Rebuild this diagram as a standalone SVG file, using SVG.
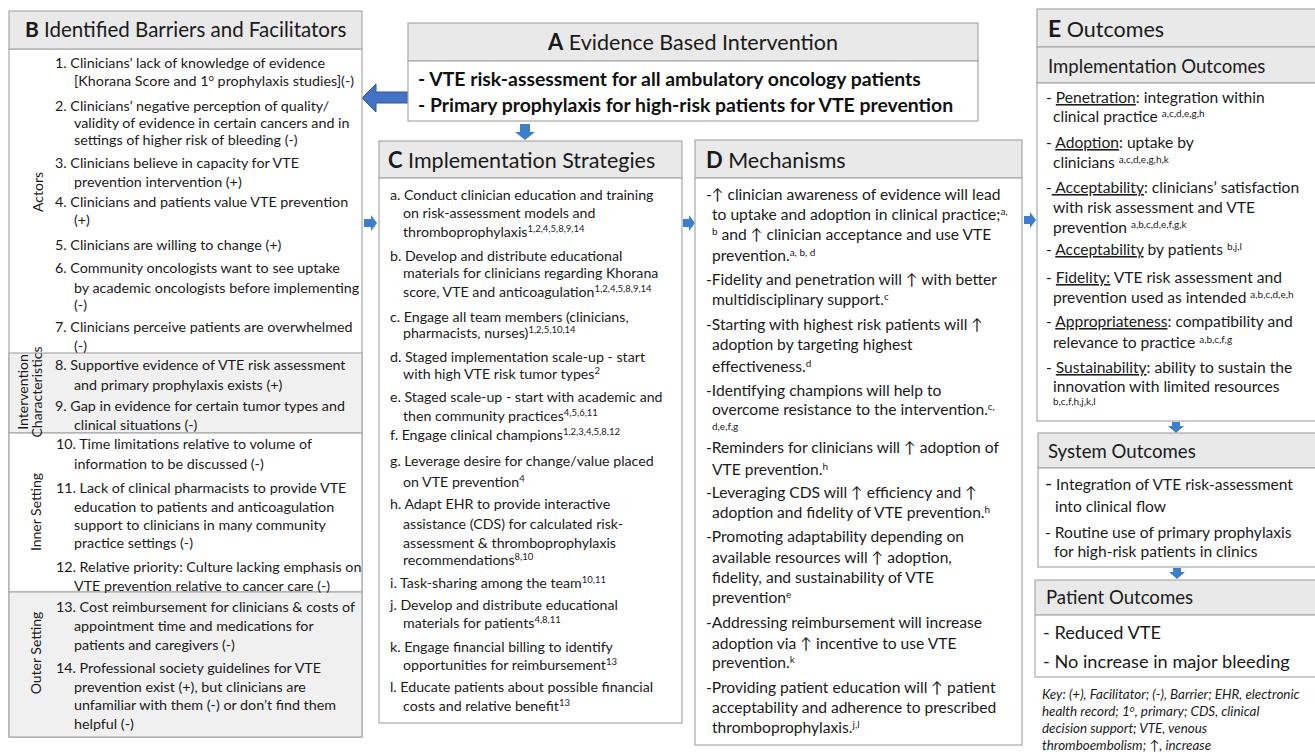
<svg xmlns="http://www.w3.org/2000/svg" width="1315" height="752" viewBox="0 0 1315 752">
<style>
.box{fill:#ffffff;stroke:#a9a9a9;stroke-width:1.2}
.hdr{fill:#e9e9e9;stroke:#a9a9a9;stroke-width:1.2}
.sec{fill:#f0f0f0;stroke:#a9a9a9;stroke-width:1.2}
text{font-family:Lato,"Open Sans","DejaVu Sans",sans-serif;fill:#1a1a1a}
.tt{font-size:21.5px}
.tl{font-weight:bold;font-size:22px}
.st{font-size:18.6px}
.bb{font-size:14.3px}
.cc{font-size:14.2px}
.dd{font-size:15.6px}
.ee{font-size:15.6px}
.pp{font-size:18.2px}
.ab{font-size:19.4px;font-weight:bold;fill:#111}
.vl{font-size:14px}
.key{font-size:13.4px;font-style:italic}
.sup{font-size:9.5px}
.sup2{font-size:10px}
.u{text-decoration:underline}
.arr{fill:#3b7fca}
</style>

<g id="connectors">
<path d="M408,92 H376 V84 L362,98 L376,112 V103 H408 Z" fill="#4472c4" stroke="#2f5597" stroke-width="1"/>
<path class="arr" d="M520,124 h10 v8 h5 l-10,8 l-10,-8 h5 z"/>
<path class="arr" d="M364,219 h7 v-4 l6,8 l-6,8 v-4 h-7 z"/>
<path class="arr" d="M683,219 h6 v-4 l6,8 l-6,8 v-4 h-6 z"/>
<path class="arr" d="M1024,216 h6 v-4 l6,8 l-6,8 v-4 h-6 z"/>
<path class="arr" d="M1172,422 h8 v4 h4 l-8,7 l-8,-7 h4 z"/>
<path class="arr" d="M1173,568 h8 v4 h4 l-8,7 l-8,-7 h4 z"/>
</g>

<g id="node-B">
<rect class="box" x="9" y="49" width="353" height="688"/>
<rect class="sec" x="9" y="353" width="353" height="80"/>
<rect class="box" x="9" y="433" width="353" height="159"/>
<rect class="sec" x="9" y="592" width="353" height="145"/>
<rect class="hdr" x="9" y="11" width="353" height="38"/>
<text x="25" y="37" style="font-size:20.5px"><tspan class="tl" style="font-size:21px">B</tspan> Identified Barriers and Facilitators</text>
<text class="vl" transform="translate(43,192) rotate(-90)" text-anchor="middle">Actors</text>
<text class="vl" transform="translate(28,392) rotate(-90)" text-anchor="middle">Intervention</text>
<text class="vl" transform="translate(42,392) rotate(-90)" text-anchor="middle">Characteristics</text>
<text class="vl" transform="translate(41,512) rotate(-90)" text-anchor="middle">Inner Setting</text>
<text class="vl" transform="translate(41,653) rotate(-90)" text-anchor="middle">Outer Setting</text>
<text x="55" y="68" class="bb">1.  Clinicians’ lack of knowledge of evidence</text>
<text x="74" y="86" class="bb">[Khorana Score and 1<tspan class="sup" dy="-5">o</tspan><tspan dy="5"> prophylaxis studies](-)</tspan></text>
<text x="55" y="111" class="bb">2.  Clinicians’ negative perception of quality/</text>
<text x="74" y="128" class="bb">validity of evidence in certain cancers and in</text>
<text x="74" y="145" class="bb">settings of higher risk of bleeding (-)</text>
<text x="55" y="168" class="bb">3.  Clinicians believe in capacity for VTE</text>
<text x="74" y="187" class="bb">prevention intervention (+)</text>
<text x="55" y="207" class="bb">4.  Clinicians and patients value VTE prevention</text>
<text x="74" y="225" class="bb">(+)</text>
<text x="55" y="250" class="bb">5.  Clinicians are willing to change (+)</text>
<text x="55" y="273" class="bb">6.  Community oncologists want to see uptake</text>
<text x="74" y="293" class="bb">by academic oncologists before implementing</text>
<text x="74" y="310" class="bb">(-)</text>
<text x="55" y="332" class="bb">7.  Clinicians perceive patients are overwhelmed</text>
<text x="74" y="351" class="bb">(-)</text>
<text x="55" y="370" class="bb">8.  Supportive evidence of VTE risk assessment</text>
<text x="74" y="390" class="bb">and primary prophylaxis exists (+)</text>
<text x="55" y="411" class="bb">9.  Gap in evidence for certain tumor types and</text>
<text x="74" y="430" class="bb">clinical situations (-)</text>
<text x="56" y="449" class="bb">10. Time limitations relative to volume of</text>
<text x="74" y="469" class="bb">information to be discussed (-)</text>
<text x="56" y="493" class="bb">11. Lack of clinical pharmacists to provide VTE</text>
<text x="74" y="512" class="bb">education to patients and anticoagulation</text>
<text x="74" y="530" class="bb">support to clinicians in many community</text>
<text x="74" y="548" class="bb">practice settings (-)</text>
<text x="56" y="572" class="bb">12. Relative priority: Culture lacking emphasis on</text>
<text x="74" y="591" class="bb">VTE prevention relative to cancer care (-)</text>
<text x="56" y="612" class="bb">13. Cost reimbursement for clinicians &amp; costs of</text>
<text x="74" y="631" class="bb">appointment time and medications for</text>
<text x="74" y="650" class="bb">patients and caregivers (-)</text>
<text x="56" y="673" class="bb">14. Professional society guidelines for VTE</text>
<text x="74" y="692" class="bb">prevention exist (+), but clinicians are</text>
<text x="74" y="710" class="bb">unfamiliar with them (-) or don’t find them</text>
<text x="74" y="729" class="bb">helpful (-)</text>
</g>

<g id="node-A">
<rect class="hdr" x="408" y="23" width="570" height="38"/>
<rect class="box" x="408" y="61" width="570" height="60"/>
<text x="693" y="50" class="tt" text-anchor="middle"><tspan class="tl">A</tspan> Evidence Based Intervention</text>
<text x="418" y="86" class="ab">- VTE risk-assessment for all ambulatory oncology patients</text>
<text x="418" y="112" class="ab">- Primary prophylaxis for high-risk patients for VTE prevention</text>
</g>

<g id="node-C">
<rect class="hdr" x="379" y="141" width="303" height="37"/>
<rect class="box" x="379" y="178" width="303" height="545"/>
<text x="388" y="168" class="tt"><tspan class="tl">C</tspan> Implementation Strategies</text>
<text x="390" y="200" class="cc">a. Conduct clinician education and training</text>
<text x="403" y="218" class="cc">on risk-assessment models and</text>
<text x="403" y="237" class="cc">thromboprophylaxis<tspan class="sup" dy="-5">1,2,4,5,8,9,14</tspan></text>
<text x="390" y="261" class="cc">b. Develop and distribute educational</text>
<text x="403" y="278" class="cc">materials for clinicians regarding Khorana</text>
<text x="403" y="297" class="cc">score, VTE and anticoagulation<tspan class="sup" dy="-5">1,2,4,5,8,9,14</tspan></text>
<text x="390" y="322" class="cc">c. Engage all team members (clinicians,</text>
<text x="403" y="338" class="cc">pharmacists, nurses)<tspan class="sup" dy="-5">1,2,5,10,14</tspan></text>
<text x="390" y="362" class="cc">d. Staged implementation scale-up - start</text>
<text x="403" y="379" class="cc">with high VTE risk tumor types<tspan class="sup" dy="-5">2</tspan></text>
<text x="390" y="402" class="cc">e. Staged scale-up - start with academic and</text>
<text x="403" y="421" class="cc">then community practices<tspan class="sup" dy="-5">4,5,6,11</tspan></text>
<text x="390" y="440" class="cc">f. Engage clinical champions<tspan class="sup" dy="-5">1,2,3,4,5,8,12</tspan></text>
<text x="390" y="466" class="cc">g. Leverage desire for change/value placed</text>
<text x="403" y="487" class="cc">on VTE prevention<tspan class="sup" dy="-5">4</tspan></text>
<text x="390" y="509" class="cc">h. Adapt EHR to provide interactive</text>
<text x="403" y="529" class="cc">assistance (CDS) for calculated risk-</text>
<text x="403" y="548" class="cc">assessment &amp; thromboprophylaxis</text>
<text x="403" y="565" class="cc">recommendations<tspan class="sup" dy="-5">8,10</tspan></text>
<text x="390" y="588" class="cc">i. Task-sharing among the team<tspan class="sup" dy="-5">10,11</tspan></text>
<text x="390" y="610" class="cc">j. Develop and distribute educational</text>
<text x="403" y="628" class="cc">materials for patients<tspan class="sup" dy="-5">4,8,11</tspan></text>
<text x="390" y="652" class="cc">k. Engage financial billing to identify</text>
<text x="403" y="670" class="cc">opportunities for reimbursement<tspan class="sup" dy="-5">13</tspan></text>
<text x="390" y="692" class="cc">l. Educate patients about possible financial</text>
<text x="403" y="711" class="cc">costs and relative benefit<tspan class="sup" dy="-5">13</tspan></text>
</g>

<g id="node-D">
<rect class="hdr" x="695" y="140" width="327" height="38"/>
<rect class="box" x="695" y="178" width="327" height="567"/>
<text x="706" y="168" class="tt"><tspan class="tl">D</tspan> Mechanisms</text>
<text x="706" y="200" class="dd">-↑ clinician awareness of evidence will lead</text>
<text x="712" y="220" class="dd">to uptake and adoption in clinical practice;<tspan class="sup2" dy="-5">a,</tspan></text>
<text x="712" y="240" class="dd"><tspan class="sup2" dy="-5">b</tspan><tspan dy="5"> and ↑ clinician acceptance and use VTE</tspan></text>
<text x="712" y="261" class="dd">prevention.<tspan class="sup2" dy="-5">a, b, d</tspan></text>
<text x="706" y="285" class="dd">-Fidelity and penetration will ↑ with better</text>
<text x="712" y="305" class="dd">multidisciplinary support.<tspan class="sup2" dy="-5">c</tspan></text>
<text x="706" y="330" class="dd">-Starting with highest risk patients will ↑</text>
<text x="712" y="350" class="dd">adoption by targeting highest</text>
<text x="712" y="372" class="dd">effectiveness.<tspan class="sup2" dy="-5">d</tspan></text>
<text x="706" y="396" class="dd">-Identifying champions will help to</text>
<text x="712" y="415" class="dd">overcome resistance to the intervention.<tspan class="sup2" dy="-5">c,</tspan></text>
<text x="712" y="430" class="sup2">d,e,f,g</text>
<text x="706" y="453" class="dd">-Reminders for clinicians will ↑ adoption of</text>
<text x="712" y="475" class="dd">VTE prevention.<tspan class="sup2" dy="-5">h</tspan></text>
<text x="706" y="498" class="dd">-Leveraging CDS will ↑ efficiency and ↑</text>
<text x="712" y="518" class="dd">adoption and fidelity of VTE prevention.<tspan class="sup2" dy="-5">h</tspan></text>
<text x="706" y="542" class="dd">-Promoting adaptability depending on</text>
<text x="712" y="563" class="dd">available resources will ↑ adoption,</text>
<text x="712" y="583" class="dd">fidelity, and sustainability of VTE</text>
<text x="712" y="603" class="dd">prevention<tspan class="sup2" dy="-5">e</tspan></text>
<text x="706" y="628" class="dd">-Addressing reimbursement will increase</text>
<text x="712" y="649" class="dd">adoption via ↑ incentive to use VTE</text>
<text x="712" y="668" class="dd">prevention.<tspan class="sup2" dy="-5">k</tspan></text>
<text x="706" y="693" class="dd">-Providing patient education will ↑ patient</text>
<text x="712" y="713" class="dd">acceptability and adherence to prescribed</text>
<text x="712" y="733" class="dd">thromboprophylaxis.<tspan class="sup2" dy="-5">j,l</tspan></text>
</g>

<g id="node-E">
<rect class="hdr" x="1037" y="9" width="280" height="38"/>
<text x="1048" y="37" class="tt"><tspan class="tl" style="font-size:23px">E</tspan> Outcomes</text>
</g>

<g id="node-E-implementation">
<rect class="hdr" x="1037" y="47" width="280" height="36"/>
<rect class="box" x="1037" y="83" width="280" height="338"/>
<text x="1048" y="73" class="st">Implementation Outcomes</text>
<text x="1046" y="103" class="ee">- <tspan class="u">Penetration</tspan>: integration within</text>
<text x="1053" y="122" class="ee">clinical practice <tspan class="sup2" dy="-5">a,c,d,e,g,h</tspan></text>
<text x="1046" y="148" class="ee">- <tspan class="u">Adoption</tspan>: uptake by</text>
<text x="1053" y="168" class="ee">clinicians <tspan class="sup2" dy="-5">a,c,d,e,g,h,k</tspan></text>
<text x="1046" y="193" class="ee">-<tspan class="u"> Acceptability</tspan>: clinicians’ satisfaction</text>
<text x="1053" y="213" class="ee">with risk assessment and VTE</text>
<text x="1053" y="233" class="ee">prevention <tspan class="sup2" dy="-5">a,b,c,d,e,f,g,k</tspan></text>
<text x="1046" y="255" class="ee">- <tspan class="u">Acceptability</tspan> by patients <tspan class="sup2" dy="-5">b,j,l</tspan></text>
<text x="1046" y="283" class="ee">- <tspan class="u">Fidelity:</tspan> VTE risk assessment and</text>
<text x="1053" y="303" class="ee">prevention used as intended <tspan class="sup2" dy="-5">a,b,c,d,e,h</tspan></text>
<text x="1046" y="327" class="ee">- <tspan class="u">Appropriateness</tspan>: compatibility and</text>
<text x="1053" y="348" class="ee">relevance to practice <tspan class="sup2" dy="-5">a,b,c,f,g</tspan></text>
<text x="1046" y="373" class="ee">- <tspan class="u">Sustainability</tspan>: ability to sustain the</text>
<text x="1053" y="392" class="ee">innovation with limited resources</text>
<text x="1053" y="405" class="sup2">b,c,f,h,j,k,l</text>
</g>

<g id="node-E-system">
<rect class="hdr" x="1038" y="433" width="279" height="35"/>
<rect class="box" x="1038" y="468" width="279" height="99"/>
<text x="1048" y="458" class="st">System Outcomes</text>
<text x="1045" y="490" class="ee"><tspan style="font-size:19px">-</tspan> Integration of VTE risk-assessment</text>
<text x="1055" y="512" class="ee">into clinical flow</text>
<text x="1045" y="538" class="ee">- Routine use of primary prophylaxis</text>
<text x="1054" y="557" class="ee">for high-risk patients in clinics</text>
</g>

<g id="node-E-patient">
<rect class="hdr" x="1035" y="580" width="282" height="35"/>
<rect class="box" x="1035" y="615" width="282" height="62"/>
<text x="1046" y="604" class="st">Patient Outcomes</text>
<text x="1043" y="639" class="pp">- Reduced VTE</text>
<text x="1043" y="668" class="pp">- No increase in major bleeding</text>
</g>

<g id="key">
<text x="1042" y="699" class="key">Key: (+), Facilitator; (-), Barrier; EHR, electronic</text>
<text x="1042" y="716" class="key">health record; 1<tspan class="sup" dy="-4">o</tspan><tspan dy="4">, primary; CDS, clinical</tspan></text>
<text x="1042" y="733" class="key">decision support; VTE, venous</text>
<text x="1042" y="750" class="key">thromboembolism; ↑, increase</text>
</g>
</svg>
